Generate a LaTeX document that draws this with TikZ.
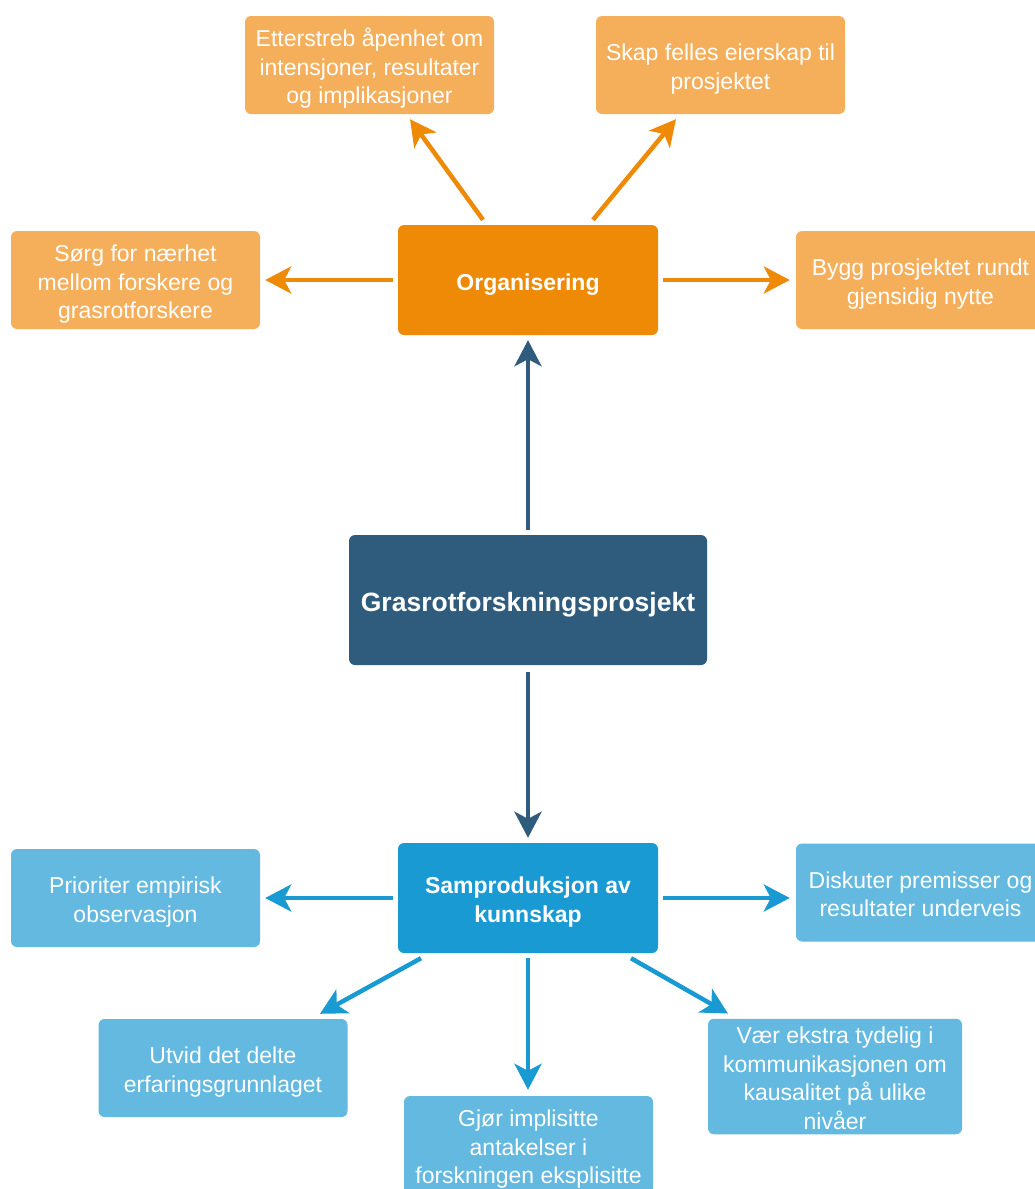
\documentclass[tikz,border=0pt]{standalone}
\usepackage{fontspec}
\setmainfont{Liberation Sans}
\usetikzlibrary{arrows.meta}
\definecolor{orgdark}{HTML}{EF8A06}
\definecolor{orglight}{HTML}{F5AF5B}
\definecolor{projblue}{HTML}{2F5C7D}
\definecolor{sampblue}{HTML}{1A9AD3}
\definecolor{samplight}{HTML}{63B9E0}
\newcommand{\topstrut}{\rule{0pt}{25pt}}
\newcommand{\botstrut}{\rule[-5pt]{0pt}{5pt}}
\begin{document}
\begin{tikzpicture}[x=1pt,y=-1pt]
\tikzstyle{every node}+=[inner sep=0pt,text=white,align=center,rounded corners=6pt]
\tikzstyle{leaf}=[minimum width=249pt,minimum height=98pt,font=\fontsize{23}{28.5}\selectfont]
\tikzstyle{hub}=[minimum width=260pt,minimum height=110pt,font=\fontsize{23}{28.5}\selectfont\bfseries]
\tikzstyle{arr}=[line width=4.5pt,-{Stealth[length=26pt,width=27pt,inset=7pt]}]
\useasboundingbox (0,0) rectangle (1035,1189);
\clip (0,0) rectangle (1035,1189);
\node [fill=projblue,minimum width=358pt,minimum height=130pt,font=\fontsize{26.5}{32}\selectfont\bfseries] (proj) at (528,600) {\rule{0pt}{29.5pt}Grasrotforskningsprosjekt\rule[-5.5pt]{0pt}{5.5pt}};
\node [hub,fill=orgdark] (org) at (528,280) {\topstrut Organisering\botstrut};
\node [hub,fill=sampblue] (samp) at (528,898) {\topstrut Samproduksjon av\\kunnskap\botstrut};
\node [leaf,fill=orglight] (tl) at (369.5,65) {\topstrut Etterstreb åpenhet om\\intensjoner, resultater\\og implikasjoner\botstrut};
\node [leaf,fill=orglight] (tr) at (720.5,65) {\topstrut Skap felles eierskap til\\prosjektet\botstrut};
\node [leaf,fill=orglight] (sorg) at (135.5,280) {\topstrut Sørg for nærhet\\mellom forskere og\\grasrotforskere\botstrut};
\node [leaf,fill=orglight] (bygg) at (920.5,280) {\topstrut Bygg prosjektet rundt\\gjensidig nytte\botstrut};
\node [leaf,fill=samplight] (prio) at (135.5,898) {\topstrut Prioriter empirisk\\observasjon\botstrut};
\node [leaf,fill=samplight] (disk) at (920.5,892.5) {\topstrut Diskuter premisser og\\resultater underveis\botstrut};
\node [leaf,fill=samplight] (utvid) at (223,1068) {\topstrut Utvid det delte\\erfaringsgrunnlaget\botstrut};
\node [leaf,fill=samplight] (gjor) at (528.5,1145) {\topstrut Gjør implisitte\\antakelser i\\forskningen eksplisitte\botstrut};
\node [leaf,fill=samplight,minimum width=254pt,minimum height=115pt] (vaer) at (835,1076.5) {\topstrut Vær ekstra tydelig i\\kommunikasjonen om\\kausalitet på ulike\\nivåer\botstrut};
\draw [arr,orgdark] ([xshift=-45pt,yshift=5pt]org.north) -- ([xshift=40.5pt,yshift=-5pt]tl.south);
\draw [arr,orgdark] ([xshift=65pt,yshift=5pt]org.north) -- ([xshift=-44.5pt,yshift=-5pt]tr.south);
\draw [arr,orgdark,shorten <=5pt,shorten >=5pt] (org) -- (sorg);
\draw [arr,orgdark,shorten <=5pt,shorten >=6pt] (org) -- (bygg);
\draw [arr,projblue,shorten <=5pt,shorten >=5pt] (proj) -- (org);
\draw [arr,projblue,shorten <=7pt,shorten >=5pt] (proj) -- (samp);
\draw [arr,sampblue,shorten <=5pt,shorten >=5pt] (samp) -- (prio);
\draw [arr,sampblue,shorten <=5pt,shorten >=6pt] (samp.east) -- (samp.east -| disk.west);
\draw [arr,sampblue] ([xshift=-107pt,yshift=-5pt]samp.south) -- ([xshift=97pt,yshift=5pt]utvid.north);
\draw [arr,sampblue,shorten <=5pt,shorten >=6pt] (samp.south) -- (samp.south |- gjor.north);
\draw [arr,sampblue] ([xshift=103pt,yshift=-5pt]samp.south) -- ([xshift=-107pt,yshift=5pt]vaer.north);
\end{tikzpicture}
\end{document}
